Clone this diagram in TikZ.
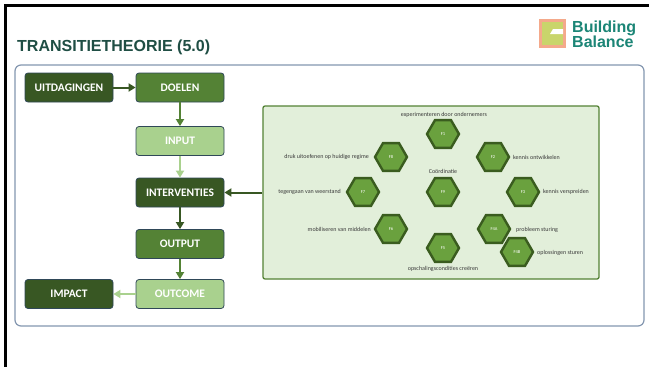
\documentclass[tikz,border=0pt]{standalone}
\usepackage{fontspec}
\setmainfont{Carlito}
\newfontfamily\arialf{Liberation Sans}
\usetikzlibrary{shapes.geometric,arrows.meta}
\definecolor{dk}{HTML}{385723}
\definecolor{md}{HTML}{548235}
\definecolor{lt}{HTML}{A9D18E}
\definecolor{bxline}{HTML}{2F4858}
\definecolor{panelfill}{HTML}{E2EFDA}
\definecolor{hexfill}{HTML}{6AA13E}
\definecolor{hexline}{HTML}{3A5C1F}
\definecolor{framegray}{HTML}{8497B0}
\definecolor{titlecol}{HTML}{1F4E44}
\definecolor{logotext}{HTML}{1B8576}
\definecolor{salmon}{HTML}{F4A98B}
\definecolor{logogreen}{HTML}{C9D56B}
\definecolor{lbl}{HTML}{3A3A3A}
\begin{document}
\begin{tikzpicture}[x=1pt,y=-1pt,
 box/.style={draw=bxline, line width=0.8pt, rounded corners=3pt, minimum width=88pt, minimum height=29pt, inner sep=0pt, text=white, font=\fontsize{11.5}{13}\selectfont\bfseries},
 hex/.style={regular polygon, regular polygon sides=6, minimum size=32pt, inner sep=0pt, fill=hexfill, draw=hexline, line width=2.4pt, text=white, font=\fontsize{4.5}{5}\selectfont},
 lab/.style={text=lbl, font=\fontsize{6}{7}\selectfont, inner sep=0pt},
 arr/.style={line width=2pt, -{Triangle[length=7pt,width=8pt]}},
]
\useasboundingbox[fill=white] (0,0) rectangle (649,367);
% black slide edge
\draw[line width=2.7pt] (5.3,367) -- (5.3,5.3) -- (649,5.3);
% title and logo
\node[anchor=base west, text=titlecol, font=\arialf\bfseries\fontsize{16}{18}\selectfont, inner sep=0pt] (title) at (17,51) {TRANSITIETHEORIE (5.0)};
\fill[salmon] (539,19) rectangle (566,48);
\fill[logogreen] (542,22) rectangle (563,45);
\fill[white] (563,29) -- (553,29) -- (550,34) -- (563,34) -- cycle;
\node[anchor=north west, align=left, text=logotext, font=\arialf\bfseries\fontsize{16}{15}\selectfont, inner sep=0pt] (logo) at (572,20.5) {Building\\Balance};
% outer frame
\draw[framegray, line width=1.2pt, rounded corners=6pt] (15,65) rectangle (644,326);
% left chain
\node[box, fill=dk] (uit) at (69,87.5) {UITDAGINGEN};
\node[box, fill=md] (doel) at (180,87.5) {DOELEN};
\node[box, fill=lt] (input) at (180,141) {INPUT};
\node[box, fill=dk] (interv) at (180,192.5) {INTERVENTIES};
\node[box, fill=md] (output) at (180,244) {OUTPUT};
\node[box, fill=lt] (outcome) at (180,294) {OUTCOME};
\node[box, fill=dk] (impact) at (69,294) {IMPACT};
\draw[arr, dk] (uit) -- (doel);
\draw[arr, md] (doel) -- (input);
\draw[arr, lt] (input) -- (interv);
\draw[arr, dk] (interv) -- (output);
\draw[arr, md] (output) -- (outcome);
\draw[arr, lt] (outcome) -- (impact);
% panel
\node[draw=md, fill=panelfill, line width=1.3pt, rounded corners=2pt, minimum width=336pt, minimum height=173pt, inner sep=0pt] (panel) at (431,192.5) {};
\draw[arr, dk] (panel.west) -- (interv.east);
% hexagons
\node[hex] (f1) at (443,134) {F1};
\node[hex] (f8) at (391,157) {F8};
\node[hex] (f7) at (363,192) {F7};
\node[hex] (f9) at (443,192) {F9};
\node[hex] (f6) at (391,229) {F6};
\node[hex] (f5) at (443,248) {F5};
\node[hex] (f2) at (493,157) {F2};
\node[hex] (f3) at (523,192) {F3};
\node[hex] (f4a) at (494,229) {F4A};
\node[hex] (f4b) at (517,252) {F4B};
% labels
\node[lab] (l1) at (444,115) {experimenteren door ondernemers};
\node[lab, anchor=east] (l8) at (369,157) {druk uitoefenen op huidige regime};
\node[lab, anchor=east] (l7) at (341,192) {tegengaan van weerstand};
\node[lab] (l9) at (443,171) {Coördinatie};
\node[lab, anchor=east] (l6) at (371,229) {mobiliseren van middelen};
\node[lab] (l5) at (443,269) {opschalingscondities creëren};
\node[lab, anchor=west] (l2) at (513,157) {kennis ontwikkelen};
\node[lab, anchor=west] (l3) at (543,192) {kennis verspreiden};
\node[lab, anchor=west] (l4a) at (516,230) {probleem sturing};
\node[lab, anchor=west] (l4b) at (537,253) {oplossingen sturen};
\end{tikzpicture}
\end{document}
